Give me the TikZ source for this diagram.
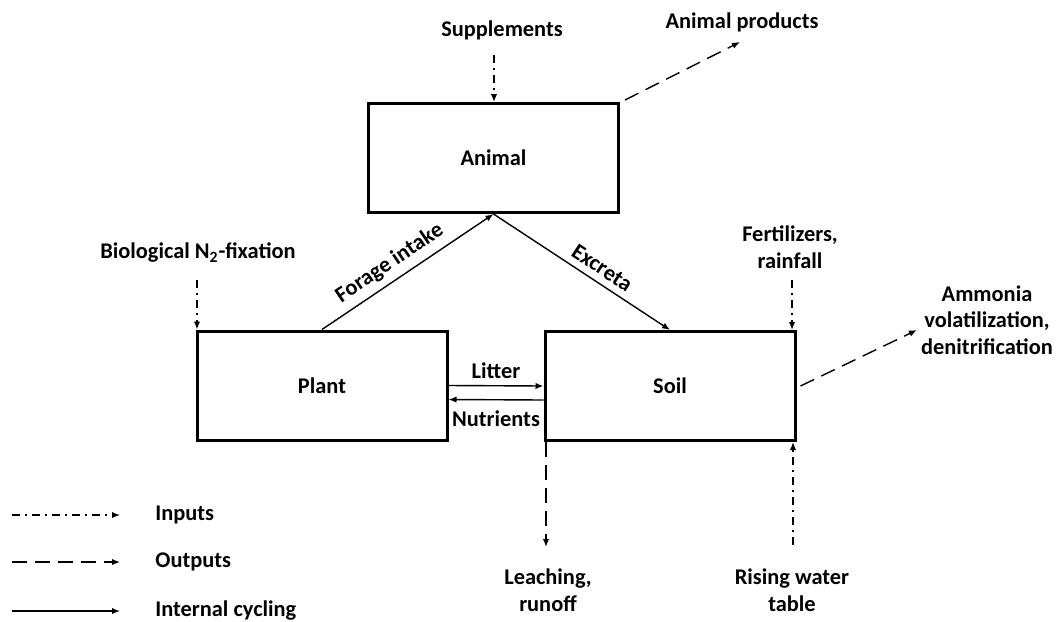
\documentclass[tikz,border=0pt]{standalone}
\usepackage{fontspec}
\setmainfont{Carlito}
\usetikzlibrary{arrows.meta}
\tikzset{>={Latex[length=4pt,width=3.2pt]}}
\tikzset{
  pool/.style={draw, line width=1.5pt, minimum width=125pt, minimum height=54.5pt},
  inflow/.style={->, line width=0.7pt, dash pattern=on 4pt off 2.5pt on 1pt off 2.5pt},
  outflow/.style={->, line width=0.7pt, dash pattern=on 7.5pt off 4pt},
  cycling/.style={->, line width=0.7pt},
  lbl/.style={align=center}
}

\begin{document}
\begin{tikzpicture}[x=0.5pt, y=-0.5pt, font=\fontsize{11.2}{13.3}\selectfont\bfseries]
\useasboundingbox (0,0) rectangle (1063,621);
  % the three pools
  \node[pool] (animal) at (493.5,158) {Animal};
  \node[pool] (plant) at (322,385.5) {Plant};
  \node[pool] (soil) at (670,386) {Soil};

  % internal cycling
  \draw[cycling] (plant.north) -- (animal.south) node[pos=0.45, above, sloped] {Forage intake};
  \draw[cycling] (animal.south) -- (soil.north) node[pos=0.57, above, sloped] {Excreta};
  \draw[cycling] (plant.east) -- (soil.west) node[midway, above] {Litter};
  \draw[cycling] ([yshift=-7pt]soil.west) -- ([yshift=-7pt]plant.east) node[midway, below=2pt] {Nutrients};

  % inputs
  \node[lbl] (supp) at (502,30) {Supplements};
  \coordinate (suppin) at (494,55);
  \draw[inflow] (suppin) -- (suppin |- animal.north);
  \node[lbl] (bio) at (198,253) {Biological N\textsubscript{2}-fixation};
  \coordinate (bioin) at (197,280);
  \draw[inflow] (bioin) -- (bioin |- plant.north);
  \node[lbl] (fert) at (790,247) {Fertilizers,\\rainfall};
  \coordinate (fertin) at (792,280);
  \draw[inflow] (fertin) -- (fertin |- soil.north);
  \node[lbl] (water) at (792,590) {Rising water\\table};
  \coordinate (waterin) at (793,545);
  \draw[inflow] (waterin) -- (waterin |- soil.south);

  % outputs
  \node[lbl] (prod) at (742,22) {Animal products};
  \coordinate (prodout) at (740,42);
  \draw[outflow] (animal.north east) ++(5,-2) -- (prodout);
  \node[lbl] (ammonia) at (987,320) {Ammonia\\volatilization,\\denitrification};
  \coordinate (ammout) at (917,330);
  \draw[outflow] ([xshift=2pt]soil.east) -- (ammout);
  \node[lbl] (leach) at (548,590) {Leaching,\\runoff};
  \coordinate (leachout) at (546,547);
  \draw[outflow] (leachout |- soil.south) -- (leachout);

  % legend
  \coordinate (k1) at (12,515);
  \coordinate (k2) at (12,562);
  \coordinate (k3) at (12,611);
  \draw[inflow] (k1) -- ++(108,0) node[right=14pt] {Inputs};
  \draw[outflow] (k2) -- ++(108,0) node[right=14pt] {Outputs};
  \draw[cycling] (k3) -- ++(108,0) node[right=14pt] {Internal cycling};
\end{tikzpicture}
\end{document}
